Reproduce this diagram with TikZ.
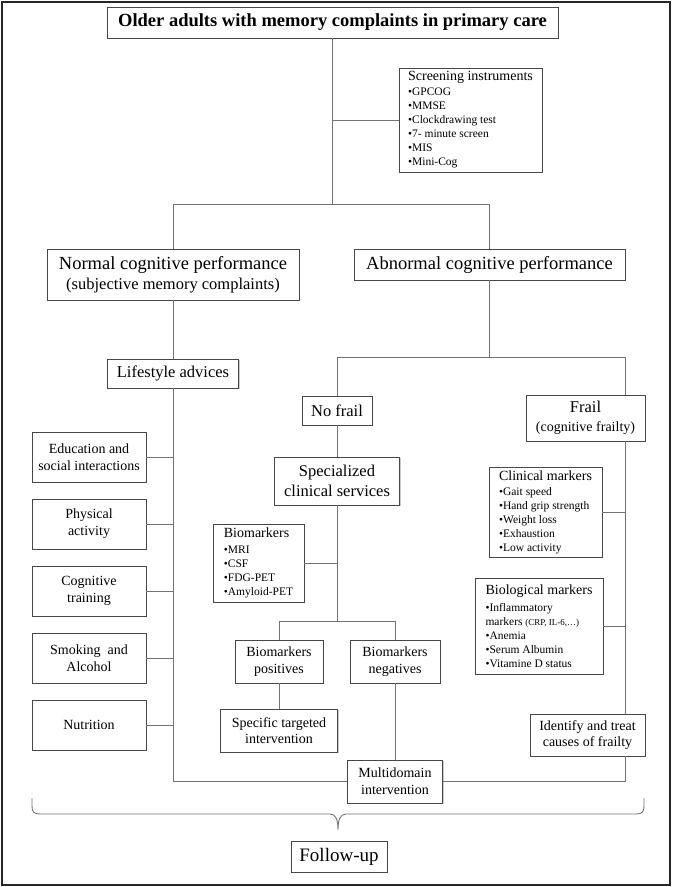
\documentclass[tikz,border=0pt]{standalone}
\usepackage{fontspec}
\setmainfont{Liberation Serif}
\usetikzlibrary{shadows}
\tikzset{
  box/.style={draw=black!72, fill=white, line width=0.8pt, inner sep=0pt, align=center,
    drop shadow={shadow xshift=1pt, shadow yshift=-1pt, fill=black!35, opacity=0.6}},
  listbox/.style={box, align=left, font=\fontsize{11.5}{14}\selectfont},
  conn/.style={draw=black!55, line width=1pt},
  fA/.style={font=\fontsize{18.5}{20}\selectfont},
  fB/.style={font=\fontsize{16.5}{20}\selectfont},
  fC/.style={font=\fontsize{14}{17}\selectfont},
}
\newcommand\ltitle[1]{{\fontsize{14}{14}\selectfont #1}}
\begin{document}
\begin{tikzpicture}[x=1pt,y=-1pt]
\useasboundingbox (0,0) rectangle (676,887);
\draw[line width=1.3pt, black!85] (2,2) rectangle (670,885);

% nodes
\node[box, minimum width=451pt, minimum height=31pt, font=\bfseries\fontsize{18.5}{22}\selectfont] (title) at (332.5,22.5) {Older adults with memory complaints in primary care};
\node[listbox, minimum width=143pt, minimum height=104pt] (screen) at (470.5,120)
  {\ltitle{Screening instruments}\\[1pt] •GPCOG\\ •MMSE\\ •Clockdrawing test\\ •7- minute screen\\ •MIS\\ •Mini-Cog};
\node[box, fA, minimum width=252pt, minimum height=51pt] (normal) at (173,274.5)
  {Normal cognitive performance\\ {\fontsize{16.5}{20}\selectfont (subjective memory complaints)}};
\node[box, fA, minimum width=271pt, minimum height=31pt] (abnormal) at (489.5,264.5) {Abnormal cognitive performance};
\node[box, fB, minimum width=131pt, minimum height=29pt] (lifestyle) at (173,373.5) {Lifestyle advices};

\node[box, fC, minimum width=114pt, minimum height=50pt] (edu) at (89,457) {Education and\\ social interactions};
\node[box, fC, minimum width=114pt, minimum height=50pt] (phys) at (89,524) {Physical\\ activity};
\node[box, fC, minimum width=114pt, minimum height=50pt] (cogn) at (89,591) {Cognitive\\ training};
\node[box, fC, minimum width=114pt, minimum height=50pt] (smok) at (89,658) {Smoking\ \ and\\ Alcohol};
\node[box, fC, minimum width=114pt, minimum height=50pt] (nutr) at (89,725) {Nutrition};

\node[box, fB, minimum width=70pt, minimum height=29pt] (nofrail) at (337,410.5) {No frail};
\node[box, fB, minimum width=119pt, minimum height=46pt] (frail) at (585.5,418)
  {Frail\\[-1pt] {\fontsize{14}{19}\selectfont (cognitive frailty)}};
\node[box, fB, minimum width=125pt, minimum height=48pt] (special) at (337,481) {Specialized\\ clinical services};
\node[listbox, minimum width=91pt, minimum height=78pt] (biom) at (258.5,563)
  {\ltitle{Biomarkers}\\[2pt] •MRI\\ •CSF\\ •FDG-PET\\ •Amyloid-PET};
\node[listbox, minimum width=113pt, minimum height=90pt] (clinical) at (545.5,512)
  {\ltitle{Clinical markers}\\[1pt] •Gait speed\\ •Hand grip strength\\ •Weight loss\\ •Exhaustion\\ •Low activity};
\node[listbox, minimum width=128pt, minimum height=96pt] (biolog) at (539,626)
  {\ltitle{Biological markers}\\[3pt] •Inflammatory\\ markers {\fontsize{9}{14}\selectfont (CRP, IL-6,…)}\\ •Anemia\\ •Serum Albumin\\ •Vitamine D status};
\node[box, fC, minimum width=88pt, minimum height=43pt] (pos) at (279,661.5) {Biomarkers\\ positives};
\node[box, fC, minimum width=90pt, minimum height=43pt] (neg) at (395,661.5) {Biomarkers\\ negatives};
\node[box, fC, minimum width=117pt, minimum height=43pt, font=\fontsize{14}{16}\selectfont] (specific) at (279,730.5) {Specific targeted\\ intervention};
\node[box, fC, minimum width=95pt, minimum height=43pt] (multi) at (395,781.5) {Multidomain\\ intervention};
\node[box, fC, minimum width=115pt, minimum height=42pt, font=\fontsize{14}{16}\selectfont] (identify) at (587.5,735) {Identify and treat\\ causes of frailty};
\node[box, minimum width=96pt, minimum height=31pt, font=\fontsize{19}{22}\selectfont] (follow) at (339,856.5) {Follow-up};

% connectors
\coordinate (br) at (332.5,204);
\draw[conn] (title.south) -- (br);
\draw[conn] (title.south |- screen.west) -- (screen.west);
\draw[conn] (normal.north) -- (normal.north |- br) -- (abnormal.north |- br) -- (abnormal.north);
\draw[conn] (normal.south) -- (lifestyle.north);
\draw[conn] (lifestyle.south) -- (lifestyle.south |- multi.west) -- (multi.west);
\foreach \b in {edu,phys,cogn,smok,nutr}
  \draw[conn] (\b.east) -- (\b.east -| lifestyle.south);

\coordinate (fr) at (625,357);
\draw[conn] (abnormal.south) -- (abnormal.south |- fr);
\draw[conn] (nofrail.north) -- (nofrail.north |- fr) -- (fr) -- (fr |- frail.north);
\draw[conn] (frail.south -| fr) -- (identify.north -| fr);
\draw[conn] (identify.south -| fr) -- (fr |- multi.east) -- (multi.east);
\draw[conn] (clinical.east) -- (clinical.east -| fr);
\draw[conn] (biolog.east) -- (biolog.east -| fr);

\draw[conn] (nofrail.south) -- (special.north);
\coordinate (br2) at (337,621);
\draw[conn] (special.south) -- (br2);
\draw[conn] (biom.east) -- (biom.east -| br2);
\draw[conn] (pos.north) -- (pos.north |- br2) -- (neg.north |- br2) -- (neg.north);
\draw[conn] (pos.south) -- (specific.north);
\draw[conn] (neg.south) -- (multi.north);

% brace
\coordinate (bl) at (32,798);
\coordinate (bt) at (338,830);
\coordinate (bre) at (644,798);
\draw[conn, line width=0.9pt] (bl) -- (32,806) .. controls (32,812) and (34,814) .. (40,814) -- (330,814)
  .. controls (336,814) and (338,820) .. (bt) .. controls (338,820) and (340,814) .. (346,814) -- (636,814)
  .. controls (642,814) and (644,812) .. (644,806) -- (bre);
\end{tikzpicture}
\end{document}
